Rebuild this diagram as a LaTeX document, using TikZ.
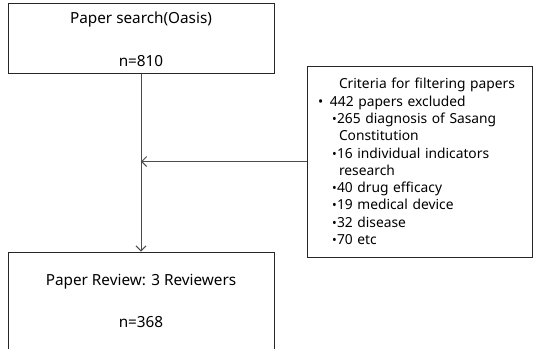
\documentclass[tikz,border=0pt]{standalone}
\usepackage{fontspec}
\setmainfont{Noto Sans}
\usetikzlibrary{arrows.meta,positioning}

\begin{document}
\begin{tikzpicture}[x=1pt,y=-1pt,>={Straight Barb[length=5pt,width=10pt]},font=\fontsize{15.3}{18}\selectfont]
\tikzstyle{box}=[draw=black!85,line width=1pt,minimum width=266pt,inner sep=0pt]
\tikzstyle{link}=[draw=black!70,line width=1pt]
\newcommand{\crititem}[1]{\hspace*{14pt}\makebox[5pt][l]{\fontsize{12.5}{12}\selectfont•}#1}
\useasboundingbox (0,0) rectangle (534,348);
\clip (0,0) rectangle (534,348);
% boxes
\node[box,minimum height=70pt] (search) at (141,38) {};
\node (searchtitle) at (141,20) {Paper search(Oasis)};
\node (searchn) at (141,61) {n=810};
\node[box,minimum height=120pt] (review) at (141,312) {};
\node (reviewtitle) at (141,282) {Paper Review: 3 Reviewers};
\node (reviewn) at (141,322) {n=368};
\node[box,minimum width=225pt,minimum height=191pt,text width=203pt,inner xsep=11pt,align=left,
  font=\fontsize{13.8}{17.3}\selectfont] (crit) at (419.5,161.5) {%
\hspace*{21pt}Criteria for filtering papers\\
\makebox[12pt][l]{•}442 papers excluded\\
\crititem{265 diagnosis of Sasang}\\
\hspace*{21pt}Constitution\\
\crititem{16 individual indicators}\\
\hspace*{21pt}research\\
\crititem{40 drug efficacy}\\
\crititem{19 medical device}\\
\crititem{32 disease}\\
\crititem{70 etc}};
% connectors
\coordinate (join) at (search.south |- crit.west);
\draw[link,->] (search) -- (review);
\draw[link,->] (crit.west) -- (join);
\end{tikzpicture}
\end{document}
